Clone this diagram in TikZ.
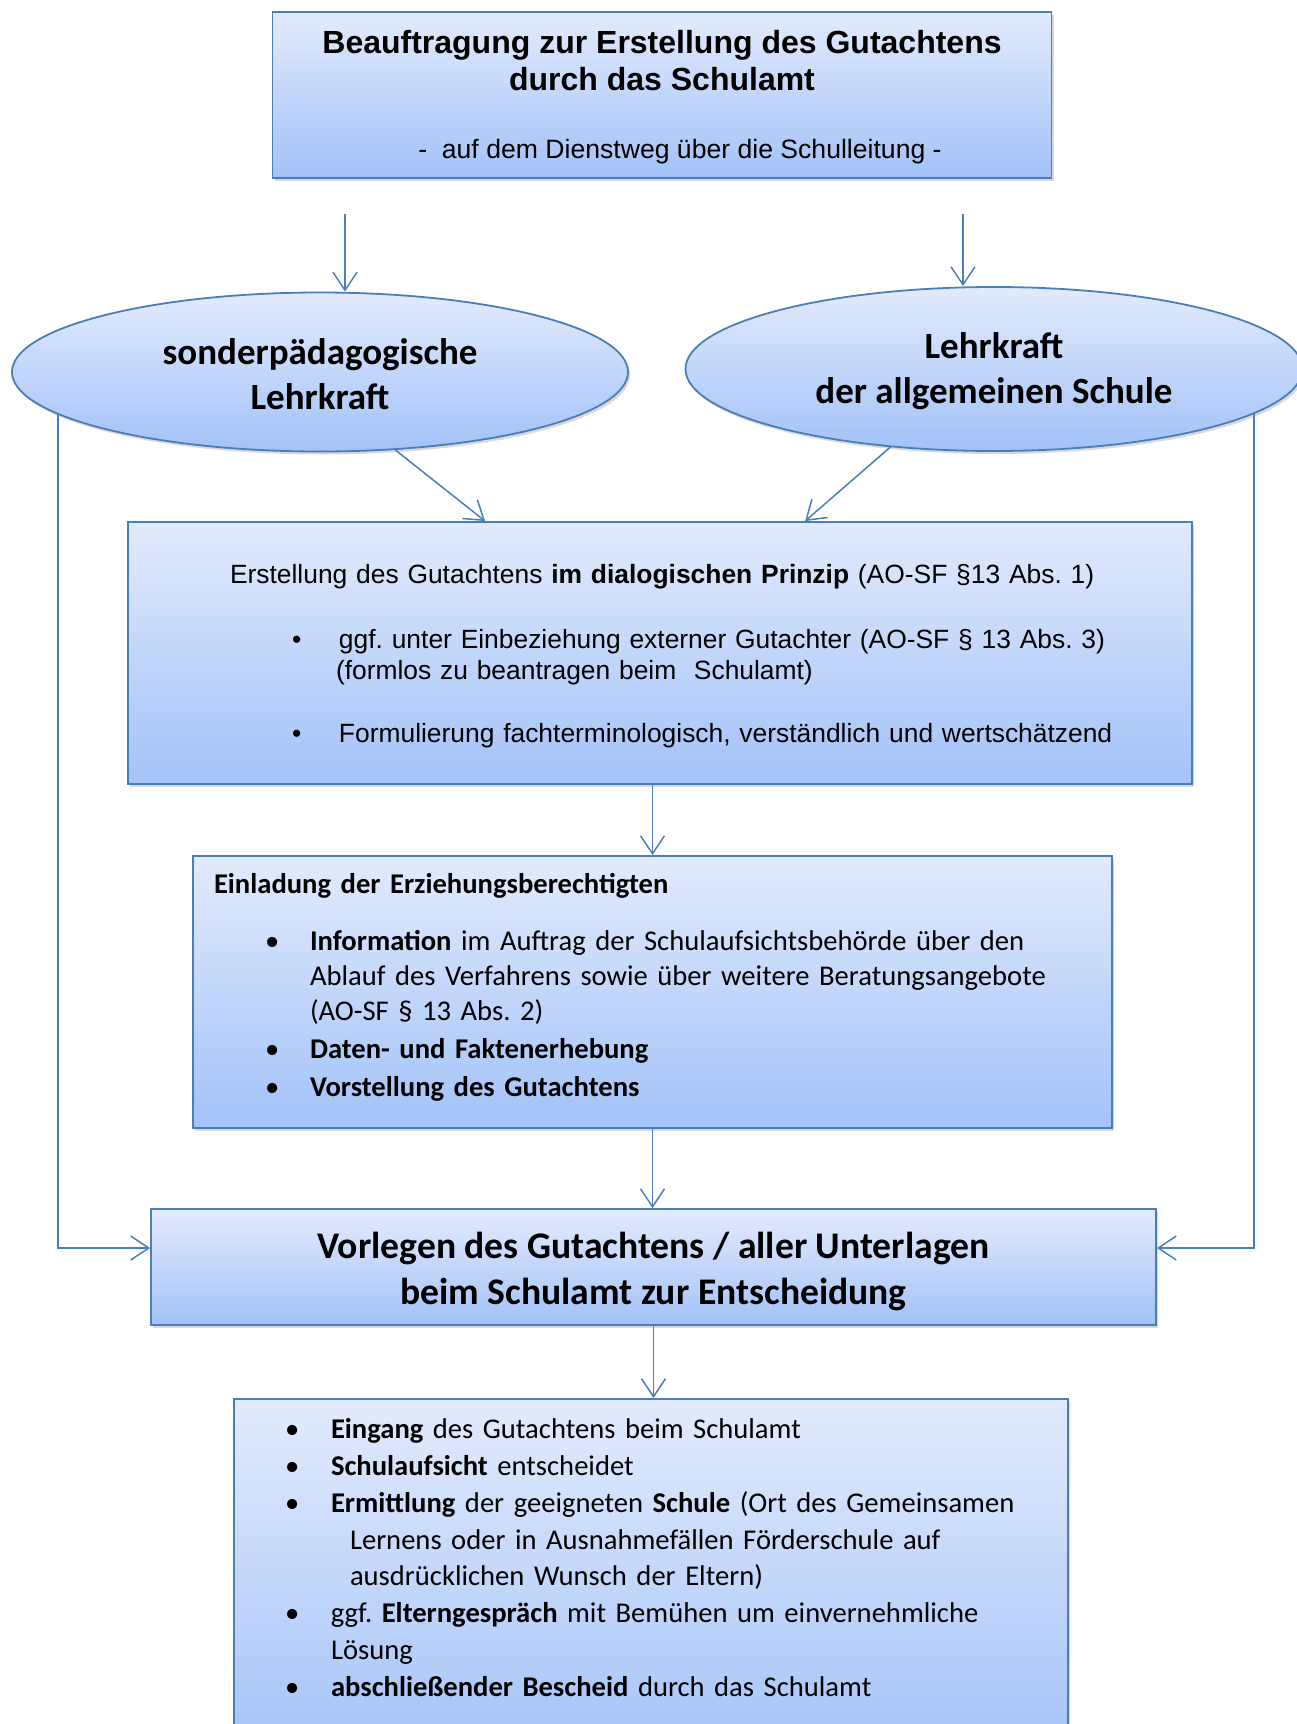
\documentclass[tikz,border=0pt]{standalone}
\usepackage{fontspec}
\setmainfont{Carlito}
\newfontfamily\arialschrift{Liberation Sans}
\usetikzlibrary{arrows.meta,shadows,shapes.geometric}
\definecolor{rahmen}{RGB}{74,126,187}
\definecolor{hell}{RGB}{226,235,252}
\definecolor{dunkel}{RGB}{163,194,248}
\frenchspacing
\begin{document}
\begin{tikzpicture}[x=1pt, y=-1pt, >={Straight Barb[length=9pt,width=12pt]},
  kasten/.style={draw=rahmen, line width=.9pt, top color=hell, bottom color=dunkel,
    drop shadow={opacity=.3, shadow xshift=1pt, shadow yshift=-1.5pt}, inner sep=0pt},
  pfeil/.style={->, draw=rahmen, line width=.75pt}]
\useasboundingbox (0,0) rectangle (648,862);

\node[kasten, minimum width=389.5pt, minimum height=83pt, align=center,
  font=\arialschrift\fontsize{16}{18.5}\selectfont] (auftrag) at (331,47.5)
  {\rule{0pt}{13.9pt}\textbf{Beauftragung zur Erstellung des Gutachtens}\\\textbf{durch das Schulamt}\\[15.6pt]
   {\fontsize{13.3}{15.5}\selectfont\hspace*{18pt}-\ \ auf dem Dienstweg über die Schulleitung -}};

\node[kasten, ellipse, minimum width=308pt, minimum height=79.5pt, align=center,
  font=\bfseries\fontsize{18.5}{22.5}\selectfont] (sonder) at (160,186) {\rule{0pt}{15.5pt}sonderpädagogische\\Lehrkraft};
\node[kasten, ellipse, minimum width=308.5pt, minimum height=82pt, align=center,
  font=\bfseries\fontsize{18.5}{22.5}\selectfont] (allg) at (497,184.5) {\rule{0pt}{15.5pt}Lehrkraft\\der allgemeinen Schule};

\node[kasten, minimum height=131pt, text width=532pt, align=left,
  font=\arialschrift\fontsize{13.2}{15.5}\selectfont] (erstellung) at (330,326.5)
  {\hspace*{51pt}\rule{0pt}{12.3pt}Erstellung des Gutachtens \textbf{im dialogischen Prinzip} (AO-SF §13 Abs. 1)\\[17pt]
   \hspace*{82pt}\makebox[23.5pt][l]{\textbullet}ggf. unter Einbeziehung externer Gutachter (AO-SF § 13 Abs. 3)\\
   \hspace*{104pt}(formlos zu beantragen beim\ \ Schulamt)\\[16pt]
   \hspace*{82pt}\makebox[23.5pt][l]{\textbullet}Formulierung fachterminologisch, verständlich und wertschätzend};

\node[kasten, minimum height=136pt, text width=459.5pt, align=left,
  font=\fontsize{14.3}{17.5}\selectfont] (einladung) at (326.25,496)
  {\hspace*{10.5pt}\textbf{Einladung der Erziehungsberechtigten}\\[11pt]
   \hspace*{36pt}\makebox[22.5pt][l]{\textbullet}\textbf{Information} im Auftrag der Schulaufsichtsbehörde über den\\
   \hspace*{58.5pt}Ablauf des Verfahrens sowie über weitere Beratungsangebote\\
   \hspace*{58.5pt}(AO-SF § 13 Abs. 2)\\[1.5pt]
   \hspace*{36pt}\makebox[22.5pt][l]{\textbullet}\textbf{Daten- und Faktenerhebung}\\[1.5pt]
   \hspace*{36pt}\makebox[22.5pt][l]{\textbullet}\textbf{Vorstellung des Gutachtens}\rule[-7.4pt]{0pt}{0pt}};

\node[kasten, minimum width=502.5pt, minimum height=58pt, align=center,
  font=\bfseries\fontsize{18.8}{23}\selectfont] (vorlegen) at (326.75,633.5)
  {\rule{0pt}{18pt}Vorlegen des Gutachtens / aller Unterlagen\\beim Schulamt zur Entscheidung};

\node[kasten, anchor=north, inner ysep=9.9pt, text width=417pt, align=left,
  font=\fontsize{14.3}{18.4}\selectfont] (entscheid) at (325.5,699)
  {\hspace*{25.5pt}\makebox[23pt][l]{\textbullet}\textbf{Eingang} des Gutachtens beim Schulamt\\
   \hspace*{25.5pt}\makebox[23pt][l]{\textbullet}\textbf{Schulaufsicht} entscheidet\\
   \hspace*{25.5pt}\makebox[23pt][l]{\textbullet}\textbf{Ermittlung} der geeigneten \textbf{Schule} (Ort des Gemeinsamen\\
   \hspace*{58pt}Lernens oder in Ausnahmefällen Förderschule auf\\
   \hspace*{58pt}ausdrücklichen Wunsch der Eltern)\\
   \hspace*{25.5pt}\makebox[23pt][l]{\textbullet}ggf. \textbf{Elterngespräch} mit Bemühen um einvernehmliche\\
   \hspace*{48.5pt}Lösung\\
   \hspace*{25.5pt}\makebox[23pt][l]{\textbullet}\textbf{abschließender Bescheid} durch das Schulamt\rule[-25pt]{0pt}{0pt}};

\coordinate (a1) at (172.5,107);
\coordinate (a2) at (481.5,107);
\coordinate (e1) at ([xshift=179pt]erstellung.north west);
\coordinate (e2) at ([xshift=339pt]erstellung.north west);
\draw[pfeil] (a1) -- (a1 |- sonder.north);
\draw[pfeil] (a2) -- (a2 |- allg.north);
\draw[pfeil] (sonder.-46.1) -- (e1);
\draw[pfeil] (allg.-143) -- (e2);
\draw[pfeil] ([shift={(-130.9,21.1)}]sonder.center) |- ([yshift=9.5pt]vorlegen.west);
\draw[pfeil] ([shift={(130.1,22.2)}]allg.center) |- ([yshift=9.5pt]vorlegen.east);
\draw[pfeil] (erstellung.south -| einladung.north) -- (einladung.north);
\draw[pfeil] (einladung.south) -- (vorlegen.north -| einladung.south);
\draw[pfeil] (vorlegen.south) -- (entscheid.north -| vorlegen.south);
\end{tikzpicture}
\end{document}
